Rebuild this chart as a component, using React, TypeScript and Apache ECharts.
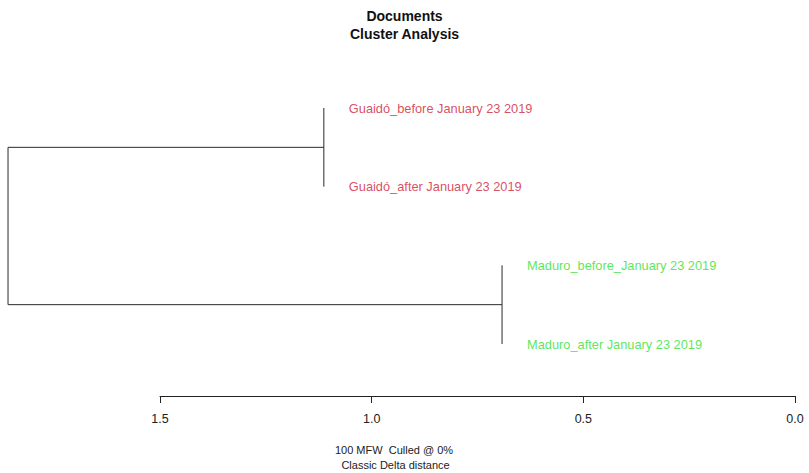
import React, { useEffect, useRef } from "react";
import * as echarts from "echarts";

// Leaves of the dendrogram, top to bottom
const leafNames = [
  "Guaidó_before January 23 2019",
  "Guaidó_after January 23 2019",
  "Maduro_before_January 23 2019",
  "Maduro_after January 23 2019",
];
const leafColors = ["#cf2038", "#cf2038", "#30e030", "#30e030"];

// Agglomeration steps (R hclust convention: negative = leaf, positive = earlier merge)
const mergeLeft = [-1, -3, 1];
const mergeRight = [-2, -4, 2];
const mergeHeight = [1.113, 0.692, 1.859];

const axisTicks = [0, 0.5, 1.0, 1.5];

const W = 809;
const H = 473;
const axisRight = 795;
const axisLeft = 160;
const axisMax = 1.5;
const pxPerUnit = (axisRight - axisLeft) / axisMax;
const treeMax = Math.max(...mergeHeight);

type Node = { h: number; y: number };

function buildTree() {
  const nodes: Node[] = [];
  const segments: number[][][] = [];
  const labelPts: { h: number; i: number }[] = [];
  const nodeOf = (ref: number, parentH: number): Node => {
    if (ref < 0) {
      const i = -ref - 1;
      labelPts.push({ h: parentH, i });
      return { h: parentH, y: i };
    }
    return nodes[ref - 1];
  };
  for (let k = 0; k < mergeHeight.length; k++) {
    const h = mergeHeight[k];
    const a = nodeOf(mergeLeft[k], h);
    const b = nodeOf(mergeRight[k], h);
    // horizontal connectors from children that are clusters
    if (a.h !== h) segments.push([[a.h, a.y], [h, a.y]]);
    if (b.h !== h) segments.push([[b.h, b.y], [h, b.y]]);
    segments.push([[h, a.y], [h, b.y]]);
    nodes.push({ h, y: (a.y + b.y) / 2 });
  }
  return { segments, labelPts };
}

export default function App() {
  const ref = useRef<HTMLDivElement>(null);
  useEffect(() => {
    if (!ref.current) return;
    const chart = echarts.init(ref.current, null, { renderer: "svg" });
    const { segments, labelPts } = buildTree();
    const font = "Liberation Sans, Arial, sans-serif";
    const gridLeft = axisRight - treeMax * pxPerUnit;

    const lineSeries = segments.map((seg) => ({
      type: "line",
      xAxisIndex: 0,
      yAxisIndex: 0,
      data: seg,
      symbol: "none",
      silent: true,
      lineStyle: { color: "#2a2a2a", width: 1 },
    }));

    chart.setOption({
      animation: false,
      backgroundColor: "#ffffff",
      title: {
        text: "Documents\nCluster Analysis",
        left: "center",
        top: 2,
        textStyle: {
          fontFamily: font,
          fontSize: 14,
          fontWeight: "bold",
          color: "#111",
          lineHeight: 18,
        },
      },
      grid: [
        { left: gridLeft, right: W - axisRight, top: 108, height: 236 },
        { left: axisLeft, right: W - axisRight, top: 395, height: 1 },
      ],
      xAxis: [
        {
          gridIndex: 0,
          type: "value",
          min: 0,
          max: treeMax,
          inverse: true,
          show: false,
        },
        {
          gridIndex: 1,
          type: "value",
          min: 0,
          max: axisMax,
          interval: 0.5,
          inverse: true,
          position: "bottom",
          axisLine: { show: true, lineStyle: { color: "#222", width: 1 } },
          axisTick: { show: true, length: 7, lineStyle: { color: "#222" } },
          splitLine: { show: false },
          axisLabel: {
            margin: 16,
            fontFamily: font,
            fontSize: 12.5,
            color: "#222",
            formatter: (v: number) =>
              axisTicks.some((t) => Math.abs(t - v) < 1e-9) ? v.toFixed(1) : "",
          },
        },
      ],
      yAxis: [
        { gridIndex: 0, type: "value", min: 0, max: 3, inverse: true, show: false },
        { gridIndex: 1, type: "value", min: 0, max: 1, show: false },
      ],
      series: [
        ...lineSeries,
        {
          type: "scatter",
          xAxisIndex: 0,
          yAxisIndex: 0,
          symbolSize: 0,
          silent: true,
          data: labelPts.map((p) => ({
            value: [p.h, p.i],
            label: {
              show: true,
              position: "right",
              distance: 25,
              formatter: leafNames[p.i],
              color: leafColors[p.i],
              fontFamily: font,
              fontSize: 12.8,
            },
          })),
        },
      ],
      graphic: [
        {
          type: "text",
          x: 394,
          y: 442,
          style: {
            text: "100 MFW  Culled @ 0%\n Classic Delta distance",
            fontFamily: font,
            fontSize: 11,
            lineHeight: 15,
            fill: "#222",
            align: "center",
          },
        },
      ],
    });
    return () => chart.dispose();
  }, []);
  return (
    <div
      ref={ref}
      style={{ position: "fixed", left: 0, top: 0, width: W, height: H }}
    />
  );
}
